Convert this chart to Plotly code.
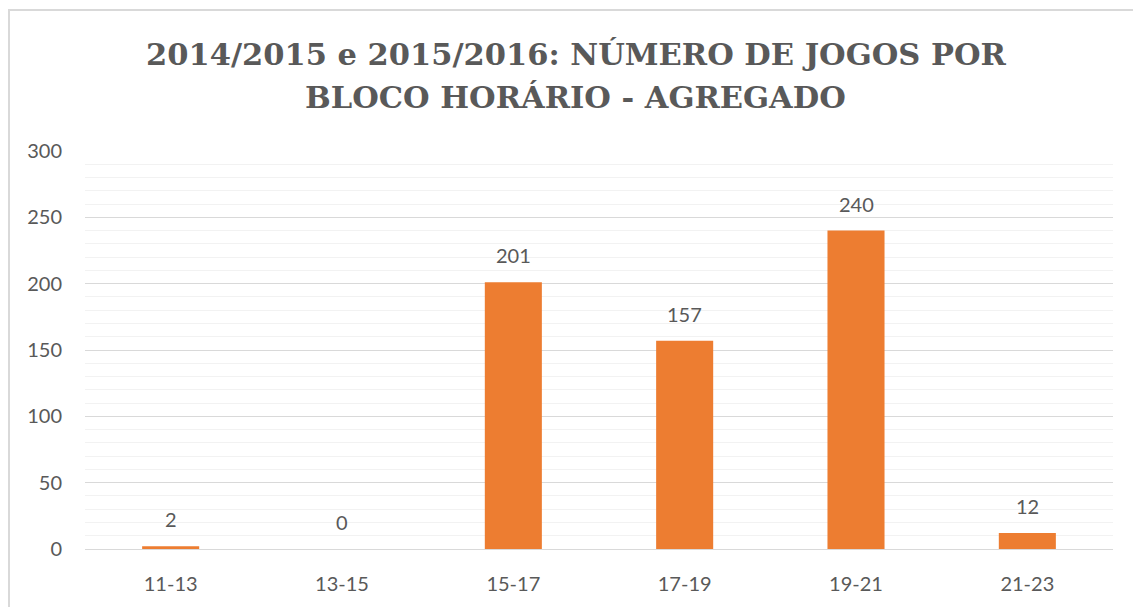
import plotly.graph_objects as go

categories = ["11-13", "13-15", "15-17", "17-19", "19-21", "21-23"]
values = [2, 0, 201, 157, 240, 12]
y_ticks = [0, 50, 100, 150, 200, 250, 300]
title_lines = ["2014/2015 e 2015/2016: NÚMERO DE JOGOS POR", "BLOCO HORÁRIO - AGREGADO"]

# page is offset by 8px body margin
W, H = 1133, 599
L, R, T, B = 77, 28, 143, 55
pw, ph = W - L - R, H - T - B

def px_x(p):
    return (p - L) / pw

def px_y(p):
    return (H - B - p) / ph

fig = go.Figure()
fig.add_trace(go.Bar(
    x=categories, y=values,
    marker=dict(color="#ED7D31", line=dict(width=0)),
    width=0.333,
    hoverinfo="x+y",
))

for c, v in zip(categories, values):
    fig.add_annotation(
        x=c, y=v, xref="x", yref="y", text=str(v), showarrow=False,
        yanchor="bottom", yshift=13,
        font=dict(family="Lato", size=20, color="#595959"),
    )

fig.update_layout(
    width=W, height=H,
    margin=dict(l=L, r=R, t=T, b=B),
    paper_bgcolor="white", plot_bgcolor="white",
    showlegend=False,
    font=dict(family="Lato", color="#595959"),
    xaxis=dict(
        showgrid=False, showline=True, linecolor="#d9d9d9", linewidth=1,
        ticks="", tickfont=dict(family="Lato", size=20, color="#595959"),
        ticklabelstandoff=17,
    ),
    yaxis=dict(
        range=[0, 300], tickvals=y_ticks,
        showgrid=True, gridcolor="#d9d9d9", gridwidth=1,
        zeroline=False, showline=False, ticks="",
        tickfont=dict(family="Lato", size=20, color="#595959"),
        ticklabelstandoff=22,
        minor=dict(dtick=10, showgrid=True, gridcolor="#f2f2f2", gridwidth=1),
    ),
)

for line, cy in zip(title_lines, [45, 89]):
    fig.add_annotation(
        text=line, xref="paper", yref="paper",
        x=px_x(567.5), y=px_y(cy), xanchor="center", yanchor="middle",
        showarrow=False, align="center",
        font=dict(family="DejaVu Serif", size=30.5, color="#595959", weight="bold"),
    )

fig.add_shape(
    type="rect", xref="paper", yref="paper",
    x0=px_x(1), x1=px_x(1160), y0=px_y(630), y1=px_y(1),
    line=dict(color="#d9d9d9", width=2), fillcolor="rgba(0,0,0,0)", layer="below",
)

fig.write_html("out.html")
